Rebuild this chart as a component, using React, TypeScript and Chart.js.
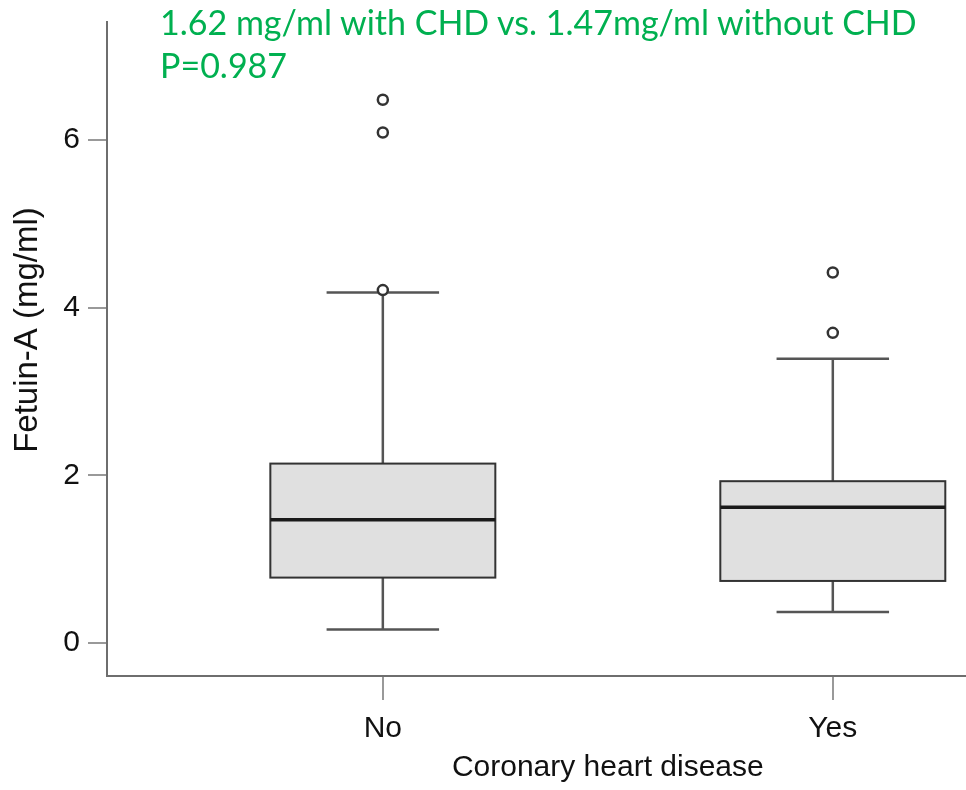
import React, { useEffect, useRef } from 'react';
import { Chart, registerables } from 'chart.js';

Chart.register(...registerables);

const categories = ['No', 'Yes'];
const categoryPositions = [1, 2];
const q1 = [0.78, 0.74];
const medians = [1.47, 1.62];
const q3 = [2.14, 1.93];
const whiskerLow = [0.16, 0.37];
const whiskerHigh = [4.18, 3.39];
const outliersNo = [6.48, 6.09, 4.21];
const outliersYes = [4.42, 3.7];
const yTicks = [0, 2, 4, 6];
const annotationLine1 = '1.62 mg/ml with CHD vs. 1.47mg/ml without CHD';
const annotationLine2 = 'P=0.987';
const xTitle = 'Coronary heart disease';
const yTitle = 'Fetuin-A (mg/ml)';

const AXIS_FONT = '"Liberation Sans", Arial, sans-serif';

const boxPlugin = {
  id: 'boxes',
  beforeDatasetsDraw(chart: any) {
    const { ctx } = chart;
    const x = chart.scales.x;
    const y = chart.scales.y;
    ctx.save();
    categoryPositions.forEach((pos, i) => {
      const cx = x.getPixelForValue(pos);
      const left = x.getPixelForValue(pos - 0.25);
      const right = x.getPixelForValue(pos + 0.25);
      const capL = x.getPixelForValue(pos - 0.125);
      const capR = x.getPixelForValue(pos + 0.125);
      const yq1 = y.getPixelForValue(q1[i]);
      const yq3 = y.getPixelForValue(q3[i]);
      const ymed = y.getPixelForValue(medians[i]);
      const ylo = y.getPixelForValue(whiskerLow[i]);
      const yhi = y.getPixelForValue(whiskerHigh[i]);

      ctx.strokeStyle = '#555555';
      ctx.lineWidth = 2.5;
      ctx.beginPath();
      ctx.moveTo(cx, yq3);
      ctx.lineTo(cx, yhi);
      ctx.moveTo(capL, yhi);
      ctx.lineTo(capR, yhi);
      ctx.moveTo(cx, yq1);
      ctx.lineTo(cx, ylo);
      ctx.moveTo(capL, ylo);
      ctx.lineTo(capR, ylo);
      ctx.stroke();

      ctx.fillStyle = '#e0e0e0';
      ctx.fillRect(left, yq3, right - left, yq1 - yq3);
      ctx.strokeStyle = '#333333';
      ctx.lineWidth = 2;
      ctx.strokeRect(left, yq3, right - left, yq1 - yq3);

      ctx.strokeStyle = '#1a1a1a';
      ctx.lineWidth = 3.5;
      ctx.beginPath();
      ctx.moveTo(left, ymed);
      ctx.lineTo(right, ymed);
      ctx.stroke();
    });
    ctx.restore();
  },
  afterDraw(chart: any) {
    const { ctx } = chart;
    const x = chart.scales.x;
    ctx.save();
    ctx.fillStyle = '#111111';
    ctx.textAlign = 'center';
    ctx.textBaseline = 'middle';
    ctx.font = `30px ${AXIS_FONT}`;
    ctx.fillText(xTitle, x.getPixelForValue(1.5), 768);
    ctx.translate(28, 330);
    ctx.rotate(-Math.PI / 2);
    ctx.font = `33px ${AXIS_FONT}`;
    ctx.fillText(yTitle, 0, 0);
    ctx.restore();
  },
};

export default function App() {
  const canvasRef = useRef<HTMLCanvasElement | null>(null);

  useEffect(() => {
    if (!canvasRef.current) return;
    const chart = new Chart(canvasRef.current, {
      type: 'scatter',
      data: {
        datasets: [
          {
            label: 'No outliers',
            data: outliersNo.map((v) => ({ x: categoryPositions[0], y: v })),
            pointRadius: 5,
            pointBackgroundColor: '#ffffff',
            pointBorderColor: '#333333',
            pointBorderWidth: 2.5,
            clip: false,
          },
          {
            label: 'Yes outliers',
            data: outliersYes.map((v) => ({ x: categoryPositions[1], y: v })),
            pointRadius: 5,
            pointBackgroundColor: '#ffffff',
            pointBorderColor: '#333333',
            pointBorderWidth: 2.5,
            clip: false,
          },
        ],
      },
      options: {
        animation: false,
        responsive: false,
        maintainAspectRatio: false,
        layout: { autoPadding: false, padding: { top: 22, left: 0, right: 0, bottom: 0 } },
        plugins: {
          legend: { display: false },
          tooltip: { enabled: false },
          title: { display: false },
        },
        scales: {
          x: {
            type: 'linear',
            min: 0.387,
            max: 2.296,
            afterBuildTicks: (s: any) => {
              s.ticks = categoryPositions.map((v) => ({ value: v }));
            },
            afterFit: (s: any) => {
              s.height = 114;
              s.paddingLeft = 0;
              s.paddingRight = 0;
            },
            ticks: {
              callback: (v: any) => categories[categoryPositions.indexOf(Number(v))] ?? '',
              font: { family: AXIS_FONT, size: 30 },
              color: '#111111',
              padding: 11,
              maxRotation: 0,
            },
            grid: {
              drawOnChartArea: false,
              drawTicks: true,
              tickLength: 24,
              color: '#999999',
              lineWidth: 2,
            },
            border: { display: true, color: '#6e6e6e', width: 2 },
          },
          y: {
            type: 'linear',
            min: -0.394,
            max: 7.408,
            afterBuildTicks: (s: any) => {
              s.ticks = yTicks.map((v) => ({ value: v }));
            },
            afterFit: (s: any) => {
              s.width = 107;
              s.paddingTop = 0;
              s.paddingBottom = 0;
            },
            ticks: {
              font: { family: AXIS_FONT, size: 30 },
              color: '#111111',
              padding: 8,
            },
            grid: {
              drawOnChartArea: false,
              drawTicks: true,
              tickLength: 19,
              color: '#999999',
              lineWidth: 2,
            },
            border: { display: true, color: '#6e6e6e', width: 2 },
          },
        },
      },
      plugins: [boxPlugin],
    });
    return () => chart.destroy();
  }, []);

  return (
    <div style={{ position: 'fixed', left: 0, top: 0, width: 966, height: 790, background: '#ffffff' }}>
      <canvas ref={canvasRef} width={966} height={790} style={{ display: 'block' }} />
      <div
        style={{
          position: 'absolute',
          left: 160,
          top: 0,
          fontFamily: 'Lato, "Open Sans", sans-serif',
          fontSize: 34,
          lineHeight: '43px',
          color: '#00b050',
          whiteSpace: 'nowrap',
        }}
      >
        <div>{annotationLine1}</div>
        <div>{annotationLine2}</div>
      </div>
    </div>
  );
}
